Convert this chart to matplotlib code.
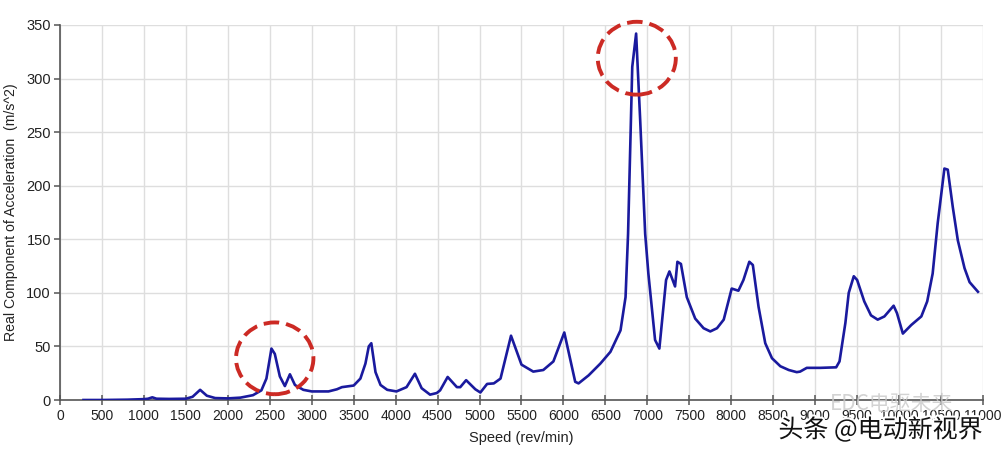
import numpy as np
import matplotlib
matplotlib.use('Agg')
import matplotlib.pyplot as plt
from matplotlib.patches import Ellipse
import matplotlib.patheffects as pe

# ── data ─────────────────────────────────────────────────────────────────
speed = [280, 500, 800, 1000, 1050, 1100, 1150, 1300, 1500, 1580, 1670, 1750,
         1850, 2000, 2150, 2300, 2400, 2460, 2520, 2560, 2620, 2680, 2740, 2800,
         2900, 3000, 3200, 3300, 3360, 3500, 3580, 3640, 3680, 3710, 3760, 3820,
         3900, 4010, 4130, 4230, 4310, 4410, 4490, 4530, 4620, 4730, 4770, 4840,
         4950, 5010, 5090, 5170, 5250, 5375, 5500, 5640, 5760, 5880, 6010, 6140,
         6180, 6300, 6440, 6560, 6680, 6740, 6770, 6820, 6866, 6914, 6974, 7012,
         7092, 7143, 7223, 7263, 7330, 7358, 7400, 7470, 7570, 7670, 7750, 7830,
         7910, 8005, 8085, 8145, 8215, 8257, 8325, 8405, 8485, 8585, 8685, 8780,
         8820, 8900, 9060, 9250, 9290, 9360, 9400, 9460, 9500, 9585, 9665, 9745,
         9825, 9935, 9975, 10045, 10145, 10265, 10335, 10400, 10460, 10540, 10580,
         10640, 10700, 10780, 10840, 10940]
accel = [0, 0, 0.3, 0.8, 1.2, 2.5, 1.2, 1.0, 1.2, 3, 9.5, 4,
         1.8, 1.5, 2.2, 4.5, 9, 20, 48, 43, 22, 13, 24, 14,
         9.5, 8, 8, 10, 12, 13.5, 20, 34, 50, 53, 26, 14,
         9.5, 8, 12, 24.5, 11, 5, 6.5, 9, 21.5, 12, 12, 18.5,
         10, 7, 15, 15.5, 20, 60, 33, 26.5, 28, 36, 63, 17,
         15.5, 23, 34, 45, 65, 96, 155, 311, 342, 262, 155, 118,
         56, 48, 112, 120, 106, 129, 127, 96, 76, 67, 64, 67,
         75, 104, 102, 112, 129, 126, 87, 53, 39, 31.5, 28, 26,
         26.5, 30, 30, 30.5, 36, 72, 100, 115.5, 112, 92, 79, 75,
         78, 88, 81, 62, 70, 78, 92, 118, 165, 216, 215,
         180, 149, 123, 110, 101]

# highlighted resonances: (centre speed, centre accel, width, height)
circle_x = [2559, 6874]
circle_y = [38.9, 319]
circle_w = [922, 930]
circle_h = [67, 68]

x_ticks = np.arange(0, 11001, 500)
y_ticks = np.arange(0, 351, 50)

plt.rcParams.update({
    'font.family': ['Liberation Sans', 'DejaVu Sans'],
    'font.size': 10,
})

LINE = '#1a1a9e'
RED = '#cc2a24'
GRID = '#dedede'
AXC = '#555555'

fig = plt.figure(figsize=(10.04, 4.51), dpi=100)
ax = fig.add_axes([60 / 1004, 51 / 451, 923 / 1004, 375 / 451])

ax.plot(speed, accel, color=LINE, lw=1.9, zorder=3, solid_joinstyle='round')

for cx, cy, w, h in zip(circle_x, circle_y, circle_w, circle_h):
    ax.add_patch(Ellipse((cx, cy), w, h, fill=False, edgecolor=RED, lw=2.8,
                         ls=(0, (4.0, 1.8)), zorder=4, clip_on=False))

ax.set_xlim(0, 11000)
ax.set_ylim(0, 350)
ax.set_xticks(x_ticks)
ax.set_yticks(y_ticks)
ax.grid(True, color=GRID, lw=1.0, zorder=0)
ax.set_axisbelow(True)

for s in ('top', 'right'):
    ax.spines[s].set_visible(False)
for s in ('left', 'bottom'):
    ax.spines[s].set_color(AXC)
    ax.spines[s].set_linewidth(1.2)
ax.tick_params(axis='x', direction='inout', length=7, width=1.1, color=AXC,
               labelcolor='#222222', labelsize=10, pad=3)
ax.tick_params(axis='y', direction='out', length=4.5, width=1.1, color=AXC,
               labelcolor='#222222', labelsize=10.5, pad=2)

ax.set_xlabel('Speed (rev/min)', fontsize=10.5, color='#222222', labelpad=6)
ax.set_ylabel('Real Component of Acceleration  (m/s^2)', fontsize=10.2,
              color='#222222', labelpad=6)

# watermark
fig.text(0.888, 0.104, 'EDC电驱未来', fontsize=15, color='#c8c8c8', alpha=0.8,
         ha='center', va='center', family=['Noto Sans CJK SC', 'DejaVu Sans'])
fig.text(0.877, 0.046, '头条 @电动新视界', fontsize=18, color='#111111',
         ha='center', va='center', family=['Noto Sans CJK SC', 'DejaVu Sans'],
         path_effects=[pe.withStroke(linewidth=3, foreground='white')])

fig.savefig('out.png', dpi=100, facecolor='white')
